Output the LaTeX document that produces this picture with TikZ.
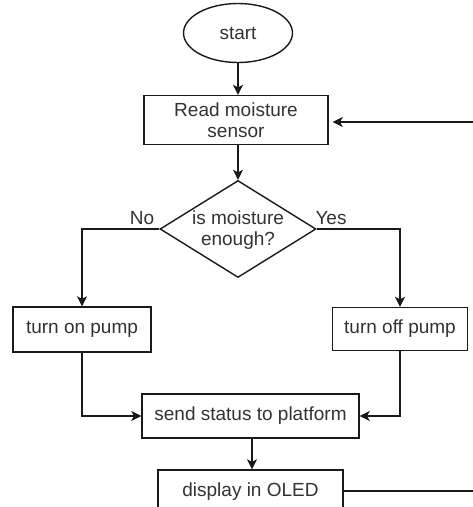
\documentclass[tikz,border=0pt]{standalone}
\usepackage{fontspec}
\setmainfont{Liberation Sans}
\usetikzlibrary{shapes.geometric,arrows.meta}
\definecolor{inkline}{HTML}{1A1A1A}
\definecolor{inktext}{HTML}{333333}
\begin{document}
\begin{tikzpicture}[x=1pt,y=-1pt,
  every node/.style={font=\fontsize{19}{21}\selectfont, text=inktext, align=center, inner sep=0pt},
  box/.style={draw=inkline, line width=1.4pt, rectangle},
  link/.style={draw=inkline, line width=1.4pt},
  arr/.style={link, -{Stealth[length=10pt,width=10pt,inset=2.5pt]}},
  tag/.style={font=\fontsize{19}{21}\selectfont}]
  \useasboundingbox (0,0) rectangle (473,507);
  \clip (0,0) rectangle (473,507);
  \fill[white] (0,0) rectangle (473,507);

  % process steps
  \node[draw=inkline, line width=1.4pt, ellipse, minimum width=109pt, minimum height=59pt] (start) at (238,33) {start};
  \node[box, minimum width=184pt, minimum height=49pt] (read) at (236,120) {Read moisture\\sensor};
  \node[diamond, draw=inkline, line width=1.4pt, minimum width=156pt, minimum height=97pt] (dec) at (238,229) {};
  \node (dectext) at (238,230) {is moisture\\enough?};
  \node[box, minimum width=138pt, minimum height=45pt] (on) at (82,329.5) {turn on pump};
  \node[box, minimum width=135pt, minimum height=43pt] (off) at (400,329) {turn off pump};
  \node[box, minimum width=217pt, minimum height=44pt] (send) at (250.5,416) {send status to platform};
  \node[box, minimum width=185pt, minimum height=44pt] (disp) at (250.5,492) {display in OLED};

  % branch labels
  \node[tag] (no) at (142,218) {No};
  \node[tag] (yes) at (331,218) {Yes};

  % loop-back corner lies beyond the right edge
  \coordinate (loop) at (495,491);

  % connectors
  \draw[arr] (start.south) -- (start.south |- read.north);
  \draw[arr] (read.south -| dec.north) -- (dec.north);
  \draw[arr] (dec.west) -| (on.north);
  \draw[arr] (dec.east) -| (off.north);
  \draw[arr] (on.south) |- (send.west);
  \draw[arr] (off.south) |- (send.east);
  \draw[arr] (send.south -| 252,0) -- (disp.north -| 252,0);
  \draw[link] (disp.east |- loop) -- (loop);
  \draw[arr] (loop) -- (495,122) -- ([xshift=4pt]read.east |- 0,122);
\end{tikzpicture}
\end{document}
